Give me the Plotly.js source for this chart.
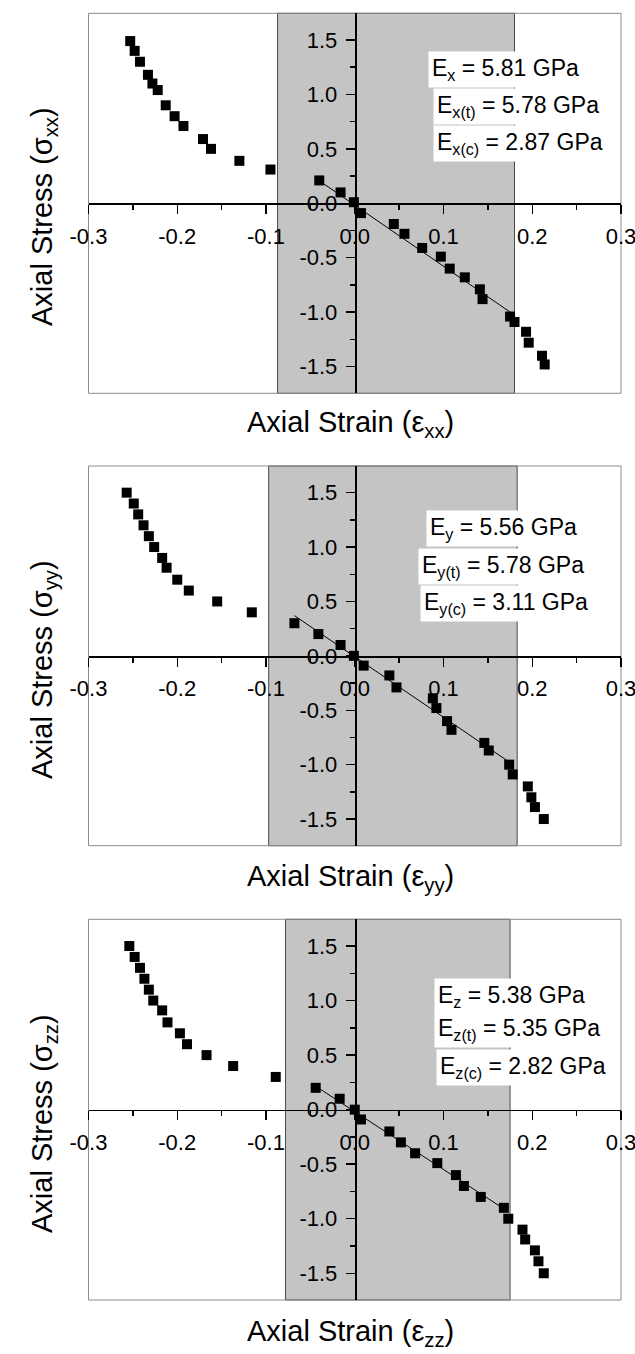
<!DOCTYPE html>
<html>
<head>
<meta charset="utf-8">
<script src="https://cdn.plot.ly/plotly-3.0.1.min.js"></script>
<style>html,body{margin:0;padding:0;background:#fff;}#chart{width:635px;height:1354px;}</style>
</head>
<body>
<div id="chart"></div>
<script>
// ---- data ----
const strainXX = [-0.253,-0.248,-0.242,-0.233,-0.228,-0.222,-0.213,-0.203,-0.193,-0.171,-0.162,-0.130,-0.095,-0.040,-0.016,-0.001,0.007,0.044,0.056,0.076,0.097,0.107,0.124,0.141,0.144,0.175,0.180,0.193,0.196,0.211,0.214];
const stressXX = [1.49,1.40,1.30,1.18,1.10,1.04,0.90,0.80,0.71,0.59,0.50,0.39,0.31,0.21,0.10,0.01,-0.09,-0.19,-0.28,-0.41,-0.49,-0.60,-0.68,-0.79,-0.88,-1.04,-1.09,-1.18,-1.28,-1.40,-1.48];

const strainYY = [-0.257,-0.249,-0.244,-0.238,-0.232,-0.226,-0.217,-0.212,-0.200,-0.187,-0.155,-0.116,-0.068,-0.041,-0.016,-0.001,0.010,0.039,0.047,0.088,0.092,0.104,0.109,0.146,0.151,0.174,0.178,0.195,0.199,0.203,0.213];
const stressYY = [1.50,1.40,1.30,1.20,1.10,1.00,0.90,0.81,0.70,0.60,0.50,0.40,0.30,0.20,0.10,0.00,-0.09,-0.18,-0.29,-0.39,-0.48,-0.60,-0.68,-0.80,-0.87,-1.00,-1.09,-1.20,-1.30,-1.39,-1.50];

const strainZZ = [-0.254,-0.248,-0.242,-0.237,-0.232,-0.227,-0.217,-0.211,-0.197,-0.189,-0.167,-0.137,-0.089,-0.044,-0.017,0.000,0.007,0.039,0.052,0.068,0.093,0.114,0.123,0.142,0.168,0.173,0.189,0.192,0.203,0.207,0.213];
const stressZZ = [1.50,1.40,1.30,1.20,1.10,1.00,0.91,0.80,0.70,0.60,0.50,0.40,0.30,0.20,0.10,0.00,-0.09,-0.20,-0.30,-0.40,-0.49,-0.60,-0.70,-0.80,-0.90,-1.00,-1.10,-1.19,-1.29,-1.39,-1.50];

// linear-fit segments (end points)
const fitXXx = [-0.044, 0.177], fitXXy = [0.23, -1.01];
const fitYYx = [-0.068, 0.173], fitYYy = [0.37, -0.97];
const fitZZx = [-0.045, 0.172], fitZZy = [0.22, -0.93];

// shaded (linear) strain windows
const shadeLo = [-0.087, -0.097, -0.078];
const shadeHi = [0.180, 0.183, 0.175];

// tick values and labels
const xTickVals = [-0.3, -0.2, -0.1, 0.0, 0.1, 0.2, 0.3];
const xTickText = ['-0.3', '-0.2', '-0.1', '0.0', '0.1', '0.2', '0.3'];
const yTickVals = [-1.5, -1.0, -0.5, 0.0, 0.5, 1.0, 1.5];
const yTickText = ['-1.5', '-1.0', '-0.5', '0.0', '0.5', '1.0', '1.5'];

// modulus labels
const modLabels = [
  ['E<sub>x</sub> = 5.81 GPa', 'E<sub>x(t)</sub> = 5.78 GPa', 'E<sub>x(c)</sub> = 2.87 GPa'],
  ['E<sub>y</sub> = 5.56 GPa', 'E<sub>y(t)</sub> = 5.78 GPa', 'E<sub>y(c)</sub> = 3.11 GPa'],
  ['E<sub>z</sub> = 5.38 GPa', 'E<sub>z(t)</sub> = 5.35 GPa', 'E<sub>z(c)</sub> = 2.82 GPa']
];
const xTitles = ['Axial Strain (ε<sub>xx</sub>)', 'Axial Strain (ε<sub>yy</sub>)', 'Axial Strain (ε<sub>zz</sub>)'];
const yTitles = ['Axial Stress (σ<sub>xx</sub>)', 'Axial Stress (σ<sub>yy</sub>)', 'Axial Stress (σ<sub>zz</sub>)'];

// ---- layout geometry ----
const W = 635, H = 1354;
const FONT = 'Arial, "Liberation Sans", sans-serif';
const xDom = [88.5 / W, 621 / W];
const xMid = (xDom[0] + xDom[1]) / 2;
const panelsPx = [[13.3, 393.3], [466, 845.7], [919.3, 1300]];
const yDoms = panelsPx.map(p => [1 - p[1] / H, 1 - p[0] / H]);
// label anchor positions (data units, per panel)
const labelPos = [
  [[0.083, 1.23], [0.088, 0.885], [0.088, 0.55]],
  [[0.080, 1.17], [0.071, 0.825], [0.073, 0.48]],
  [[0.089, 1.04], [0.089, 0.735], [0.092, 0.39]]
];
const yTitleY = [217, 670, 1124];
const xTitleY = [424, 878, 1333];

const sets = [[strainXX, stressXX, fitXXx, fitXXy], [strainYY, stressYY, fitYYx, fitYYy], [strainZZ, stressZZ, fitZZx, fitZZy]];

const traces = [];
const shapes = [];
const annotations = [];
const layout = {
  width: W, height: H,
  margin: {l: 0, r: 0, t: 0, b: 0},
  paper_bgcolor: '#ffffff', plot_bgcolor: 'rgba(0,0,0,0)',
  showlegend: false,
  font: {family: FONT, color: '#000'}
};

sets.forEach((s, i) => {
  const sx = i === 0 ? '' : String(i + 1);
  const xa = 'x' + sx, ya = 'y' + sx;
  traces.push({
    x: s[2], y: s[3], xaxis: xa, yaxis: ya, type: 'scatter', mode: 'lines',
    line: {color: '#000', width: 1}, hoverinfo: 'skip'
  });
  traces.push({
    x: s[0], y: s[1], xaxis: xa, yaxis: ya, type: 'scatter', mode: 'markers',
    marker: {symbol: 'square', size: 10, color: '#000'}, cliponaxis: false
  });
  const yMid = (yDoms[i][0] + yDoms[i][1]) / 2;
  layout['xaxis' + sx] = {
    domain: xDom, anchor: 'free', position: yMid, range: [-0.3, 0.3],
    tickmode: 'array', tickvals: xTickVals, ticktext: xTickText,
    showgrid: false, zeroline: false,
    showline: true, linecolor: '#000', linewidth: 1.8,
    ticks: 'outside', ticklen: 9, tickwidth: 1.5, tickcolor: '#000',
    minor: {dtick: 0.05, tick0: 0, ticks: 'outside', ticklen: 5, tickwidth: 1.5, tickcolor: '#000', showgrid: false},
    tickfont: {family: FONT, size: 22, color: '#000'}, ticklabelstandoff: 3,
    ticklabeloverflow: 'allow',
    fixedrange: true
  };
  layout['yaxis' + sx] = {
    domain: yDoms[i], anchor: 'free', position: xMid, range: [-1.745, 1.745],
    tickmode: 'array', tickvals: yTickVals, ticktext: yTickText,
    showgrid: false, zeroline: false,
    showline: true, linecolor: '#000', linewidth: 1.8,
    ticks: 'outside', ticklen: 9, tickwidth: 1.5, tickcolor: '#000',
    minor: {dtick: 0.25, tick0: 0, ticks: 'outside', ticklen: 5, tickwidth: 1.5, tickcolor: '#000', showgrid: false},
    tickfont: {family: FONT, size: 22, color: '#000'}, ticklabelstandoff: 4,
    ticklabeloverflow: 'allow',
    fixedrange: true
  };
  shapes.push({
    type: 'rect', layer: 'below', xref: xa, yref: ya + ' domain',
    x0: shadeLo[i], x1: shadeHi[i], y0: 0, y1: 1,
    fillcolor: '#c4c4c4', line: {color: '#4a4a4a', width: 1}
  });
  shapes.push({
    type: 'rect', layer: 'below', xref: xa + ' domain', yref: ya + ' domain',
    x0: 0, x1: 1, y0: 0, y1: 1,
    fillcolor: 'rgba(0,0,0,0)', line: {color: '#8c8c8c', width: 1}
  });
  modLabels[i].forEach((t, k) => {
    annotations.push({
      xref: xa, yref: ya, x: labelPos[i][k][0], y: labelPos[i][k][1],
      xanchor: 'left', yanchor: 'middle', text: t, showarrow: false,
      bgcolor: '#ffffff', borderpad: 3,
      font: {family: FONT, size: 23, color: '#000'}
    });
  });
  annotations.push({
    xref: 'paper', yref: 'paper', x: 351 / W, y: 1 - xTitleY[i] / H,
    xanchor: 'center', yanchor: 'middle', text: xTitles[i], showarrow: false,
    font: {family: FONT, size: 29, color: '#000'}
  });
  annotations.push({
    xref: 'paper', yref: 'paper', x: 44 / W, y: 1 - yTitleY[i] / H,
    xanchor: 'center', yanchor: 'middle', text: yTitles[i], showarrow: false,
    textangle: -90,
    font: {family: FONT, size: 29, color: '#000'}
  });
});

layout.shapes = shapes;
layout.annotations = annotations;

Plotly.newPlot('chart', traces, layout, {displayModeBar: false, staticPlot: true});
</script>
</body>
</html>
